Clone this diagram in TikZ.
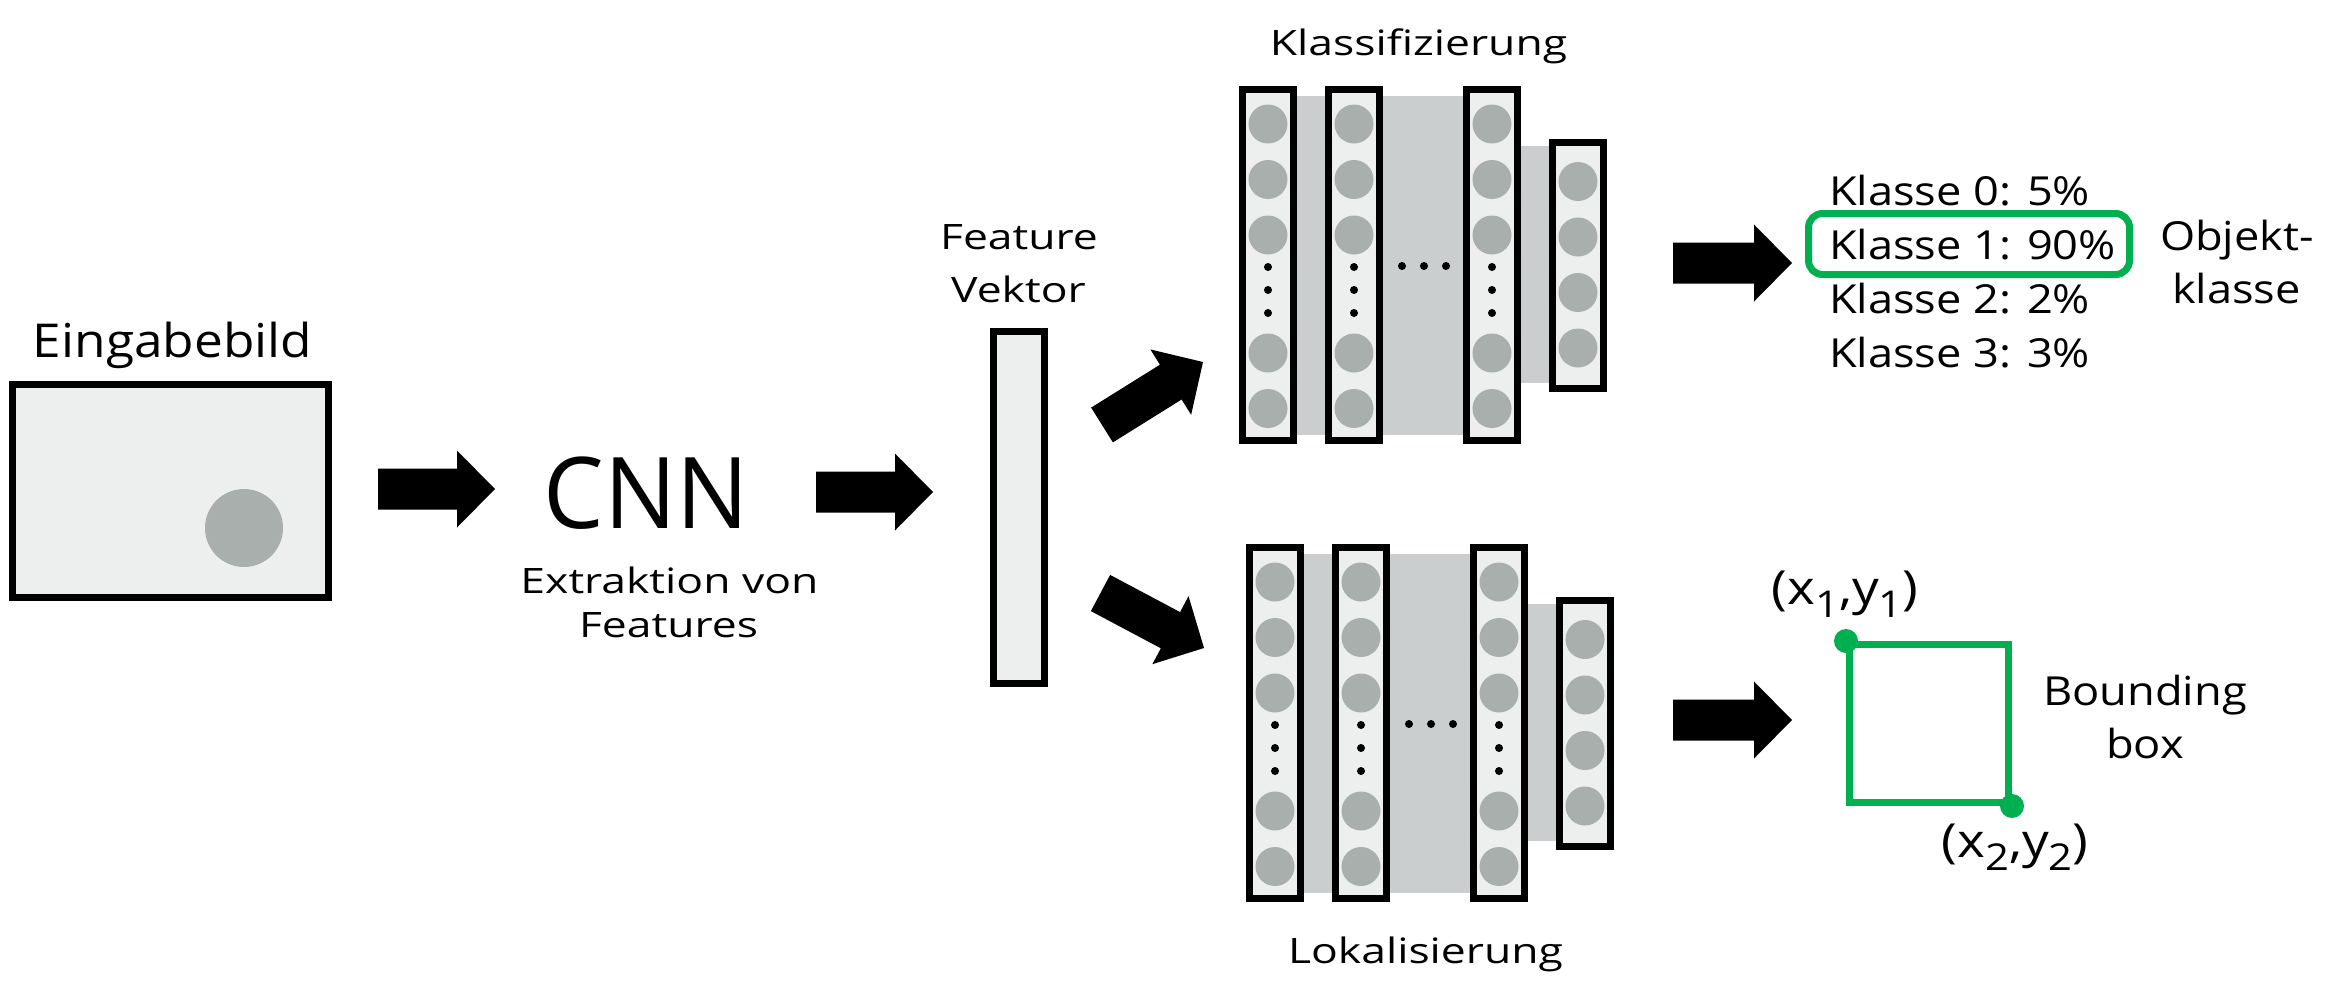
\documentclass[tikz,border=0pt]{standalone}
\usepackage{fontspec}
\setmainfont{Open Sans}
\newfontfamily\fEin[FakeStretch=1.10]{Open Sans}
\newfontfamily\fCNN[FakeStretch=0.97]{Open Sans}
\newfontfamily\fB[FakeStretch=1.27]{Open Sans}
\newfontfamily\fA[FakeStretch=1.13]{Open Sans}
\usetikzlibrary{calc}
\definecolor{lightfill}{RGB}{237,239,238}
\definecolor{circ}{RGB}{168,175,173}
\definecolor{band}{RGB}{202,206,207}
\definecolor{grn}{RGB}{0,176,80}
\tikzset{
  lbl/.style={anchor=base, inner sep=0pt, outer sep=0pt},
  lblB/.style={lbl, font=\fB\fontsize{35}{42}\selectfont},
  lblA/.style={lbl, font=\fA\fontsize{40}{48}\selectfont},
  lblP/.style={lbl, font=\fA\fontsize{47}{56}\selectfont},
  colbox/.style={draw=black, line width=7pt, fill=lightfill, inner sep=0pt, minimum width=51pt},
  neuron/.style={fill=circ},
}
% block arrow from coordinate #1 (tail middle) to coordinate #2 (tip)
\newcommand\blockarrow[2]{%
  \coordinate (baB) at ($(#2)!38pt!(#1)$);
  \fill[black] ($(#1)!20.5pt!90:(#2)$) -- ($(baB)!20.5pt!-90:(#1)$) -- ($(baB)!38.5pt!-90:(#1)$) -- (#2)
    -- ($(baB)!38.5pt!90:(#1)$) -- ($(baB)!20.5pt!90:(#1)$) -- ($(#1)!20.5pt!-90:(#2)$) -- cycle;}
\newcommand\sub[1]{\raisebox{-0.28em}{\fontsize{37}{37}\selectfont #1}}
\newcommand\mynet[2]{%
\begin{scope}[shift={(#2)}]
  \fill[band] (0,10) rectangle (224,349);
  \fill[band] (224,60) rectangle (310,297);
  \foreach \cx/\n in {0/1,86/2,224/3} {
    \node[colbox, minimum height=351pt] (#1\n) at (\cx,179) {};
    \foreach \cy in {38,93.5,149,267,322.5} \fill[neuron] (\cx,\cy) circle[radius=19.5];
    \foreach \cy in {181,204,227} \fill[black] (\cx,\cy) circle[radius=4];
  }
  \node[colbox, minimum height=246pt] (#14) at (310,179.5) {};
  \foreach \cy in {95.5,151,206.5,262} \fill[neuron] (310,\cy) circle[radius=19.5];
  \foreach \cx in {134,156,178} \fill[black] (\cx,180) circle[radius=4];
\end{scope}}
\begin{document}
\begin{tikzpicture}[x=1pt,y=-1pt]
\useasboundingbox (0,0) rectangle (2340,1002);

% input image
\node[draw=black, line width=7pt, fill=lightfill, minimum width=316pt, minimum height=213pt, inner sep=0pt] (img) at (170.5,491) {};
\fill[neuron] (244,528) circle[radius=39];
\node[lbl, font=\fEin\fontsize{46.7}{50}\selectfont] (tEin) at (172.5,357) {Eingabebild};

% CNN
\node[lbl, font=\fCNN\fontsize{99}{100}\selectfont] (cnn) at (646.5,528) {CNN};
\node[lblB] (ext1) at (669.5,593) {Extraktion von};
\node[lblB] (ext2) at (668.5,637) {Features};

% feature vector
\node[colbox, minimum height=352pt] (fv) at (1019,507.5) {};
\node[lblB] (fv1) at (1019,249) {Feature};
\node[lblB] (fv2) at (1018.5,302) {Vektor};

% networks
\mynet{u}{1268,86}
\mynet{l}{1275,544}
\node[lblB] (tKl) at (1418.5,55) {Klassifizierung};
\node[lblB] (tLo) at (1425.5,963) {Lokalisierung};

% classes
\node[lblA, anchor=base west] (k0) at (1829,205) {Klasse 0: 5\%};
\node[lblA, anchor=base west] (k1) at (1829,259) {Klasse 1: 90\%};
\node[lblA, anchor=base west] (k2) at (1829,313) {Klasse 2: 2\%};
\node[lblA, anchor=base west] (k3) at (1829,367) {Klasse 3: 3\%};
\node[draw=grn, line width=7pt, rounded corners=14pt, minimum width=321pt, minimum height=61pt, inner sep=0pt] (sel) at (1969,244) {};
\node[lblA] (ok1) at (2237,250) {Objekt-};
\node[lblA] (ok2) at (2236.5,303) {klasse};

% bounding box
\node[draw=grn, line width=7pt, minimum width=159pt, minimum height=158pt, inner sep=0pt] (bbox) at (1929,723.5) {};
\fill[grn] (bbox.north west) circle[radius=12];
\fill[grn] (bbox.south east) circle[radius=12];
\node[lblP] (p1) at (1845,604) {(x\sub{1},y\sub{1})};
\node[lblP] (p2) at (2015,857) {(x\sub{2},y\sub{2})};
\node[lblA] (bb1) at (2145,705) {Bounding};
\node[lblA] (bb2) at (2145,758) {box};

% arrows
\coordinate (a1s) at (378,489);   \coordinate (a1e) at (495,489);
\coordinate (a2s) at (816,492);   \coordinate (a2e) at (933,492);
\coordinate (a3s) at (1102,425);  \coordinate (a3e) at (1203,362);
\coordinate (a4s) at (1100.5,593);\coordinate (a4e) at (1204,648);
\coordinate (a5s) at (1673,263);  \coordinate (a5e) at (1792,263);
\coordinate (a6s) at (1673,720);  \coordinate (a6e) at (1792,720);
\blockarrow{a1s}{a1e}
\blockarrow{a2s}{a2e}
\blockarrow{a3s}{a3e}
\blockarrow{a4s}{a4e}
\blockarrow{a5s}{a5e}
\blockarrow{a6s}{a6e}
\end{tikzpicture}
\end{document}
